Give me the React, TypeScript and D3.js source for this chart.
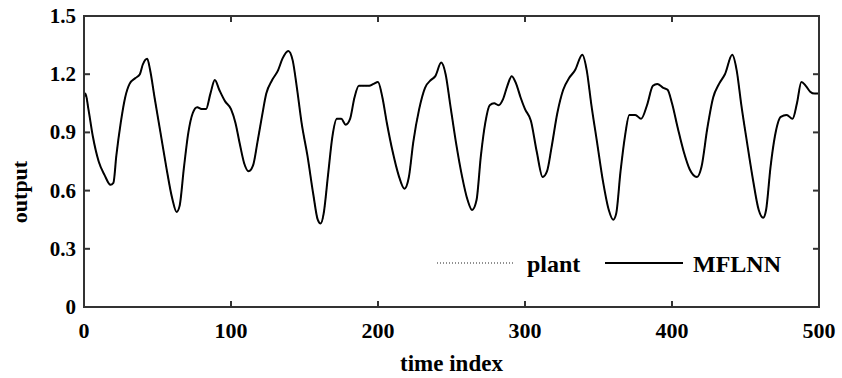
import React from "react";
import * as d3 from "d3";

const timeIndex: number[] = [
  0, 1, 3, 6, 10, 14, 18, 20, 22, 25, 28, 31, 35, 38, 40, 43, 45, 48, 52, 56, 60, 63, 65, 68, 71, 74, 77, 80, 83, 86, 89,
  92, 96, 100, 103, 106, 109, 112, 115, 118, 121, 124, 128, 132, 135, 139, 142, 145, 148, 152, 156, 159, 161, 163, 166,
  169, 172, 175, 178, 181, 184, 187, 190, 194, 197, 200, 203, 206, 210, 214, 218, 221, 224, 228, 232, 236, 239, 243,
  246, 249, 253, 257, 261, 264, 267, 270, 273, 276, 279, 282, 285, 288, 291, 294, 297, 300, 304, 308, 312, 315, 318,
  322, 326, 330, 334, 339, 342, 345, 349, 353, 357, 360, 362, 365, 368, 371, 375, 379, 383, 387, 390, 394, 397, 400,
  404, 408, 412, 417, 420, 424, 428, 432, 436, 441, 444, 447, 451, 455, 459, 462, 464, 467, 470, 474, 478, 482, 485,
  488, 491, 494, 497, 500,
];

const mflnnValues: number[] = [
  1.08, 1.1, 1.02, 0.88, 0.75, 0.68, 0.63, 0.64, 0.78, 0.95, 1.08, 1.15, 1.18, 1.2, 1.25, 1.28, 1.22, 1.08, 0.9, 0.72,
  0.56, 0.49, 0.52, 0.72, 0.9, 1.0, 1.03, 1.02, 1.02, 1.1, 1.17, 1.12, 1.06, 1.02, 0.95, 0.84, 0.74, 0.7, 0.73, 0.85,
  0.98, 1.1, 1.17, 1.22, 1.28, 1.32, 1.27, 1.12, 0.95, 0.78, 0.58, 0.45, 0.43, 0.48, 0.68, 0.88, 0.97, 0.97, 0.94,
  0.97, 1.08, 1.14, 1.14, 1.14, 1.15, 1.16, 1.08, 0.95, 0.8, 0.68, 0.61, 0.67, 0.85, 1.02, 1.13, 1.17, 1.19, 1.26,
  1.2, 1.05, 0.85, 0.68, 0.55, 0.5, 0.55, 0.78, 0.95, 1.04, 1.05, 1.04, 1.07, 1.14, 1.19, 1.15, 1.08, 1.02, 0.96,
  0.8, 0.67, 0.7, 0.82, 1.0, 1.12, 1.18, 1.22, 1.3, 1.22, 1.05, 0.85, 0.65, 0.5, 0.45, 0.48, 0.7, 0.88, 0.99, 0.99,
  0.97, 1.04, 1.14, 1.15, 1.13, 1.12, 1.05, 0.92, 0.8, 0.71, 0.67, 0.72, 0.92, 1.08, 1.15, 1.2, 1.3, 1.22, 1.05,
  0.85, 0.66, 0.5, 0.46, 0.5, 0.72, 0.88, 0.98, 0.99, 0.97, 1.05, 1.16, 1.14, 1.11, 1.1, 1.1,
];

// plant output lies underneath the model output (indistinguishable in the figure)
const plantValues: number[] = mflnnValues;

const xTicks: number[] = [0, 100, 200, 300, 400, 500];
const yTicks: number[] = [0, 0.3, 0.6, 0.9, 1.2, 1.5];
const yTickLabels: string[] = ["0", "0.3", "0.6", "0.9", "1.2", "1.5"];
const seriesNames: string[] = ["plant", "MFLNN"];

const W = 842;
const H = 378;
const plot = { left: 84, right: 819, top: 16, bottom: 307 };
const FONT = "'Liberation Serif', 'Times New Roman', serif";

export default function App() {
  const x = d3.scaleLinear().domain([0, 500]).range([plot.left, plot.right]);
  const y = d3.scaleLinear().domain([0, 1.5]).range([plot.bottom, plot.top]);

  const line = d3
    .line<number>()
    .x((_, i) => x(timeIndex[i]))
    .y((d) => y(d))
    .curve(d3.curveMonotoneX);

  const tickLen = 6;
  const frameColor = "#333";

  return (
    <svg
      width={W}
      height={H}
      style={{ position: "absolute", left: 0, top: 0, background: "#fff" }}
      fontFamily={FONT}
      fontWeight="bold"
    >
      <rect x={0} y={0} width={W} height={H} fill="#fff" />
      {/* series */}
      <path d={line(plantValues) || ""} fill="none" stroke="#444" strokeWidth={1} strokeDasharray="1,2" />
      <path d={line(mflnnValues) || ""} fill="none" stroke="#000" strokeWidth={2} strokeLinejoin="round" />

      {/* frame */}
      <rect
        x={plot.left}
        y={plot.top}
        width={plot.right - plot.left}
        height={plot.bottom - plot.top}
        fill="none"
        stroke={frameColor}
        strokeWidth={2}
      />

      {/* x ticks */}
      {xTicks.map((t) => (
        <g key={"xt" + t}>
          <line x1={x(t)} x2={x(t)} y1={plot.bottom} y2={plot.bottom - tickLen} stroke={frameColor} strokeWidth={2} />
          <line x1={x(t)} x2={x(t)} y1={plot.top} y2={plot.top + tickLen} stroke={frameColor} strokeWidth={2} />
          <text x={x(t)} y={338} textAnchor="middle" fontSize={22} fill="#000">
            {String(t)}
          </text>
        </g>
      ))}

      {/* y ticks */}
      {yTicks.map((v, i) => (
        <g key={"yt" + v}>
          <line x1={plot.left} x2={plot.left + tickLen} y1={y(v)} y2={y(v)} stroke={frameColor} strokeWidth={2} />
          <line x1={plot.right} x2={plot.right - tickLen} y1={y(v)} y2={y(v)} stroke={frameColor} strokeWidth={2} />
          <text x={76} y={y(v) + 7} textAnchor="end" fontSize={21} fill="#000">
            {yTickLabels[i]}
          </text>
        </g>
      ))}

      {/* axis labels */}
      <text x={(plot.left + plot.right) / 2} y={371} textAnchor="middle" fontSize={23} fill="#000">
        time index
      </text>
      <text transform={`translate(27, 192) rotate(-90)`} textAnchor="middle" fontSize={22} fill="#000">
        output
      </text>

      {/* legend */}
      <line x1={437} x2={513} y1={263} y2={263} stroke="#222" strokeWidth={1.2} strokeDasharray="1,2" />
      <text x={527} y={272} fontSize={24} fill="#000">
        {seriesNames[0]}
      </text>
      <line x1={605} x2={683} y1={263} y2={263} stroke="#000" strokeWidth={2} />
      <text x={693} y={272} fontSize={24} fill="#000">
        {seriesNames[1]}
      </text>
    </svg>
  );
}
